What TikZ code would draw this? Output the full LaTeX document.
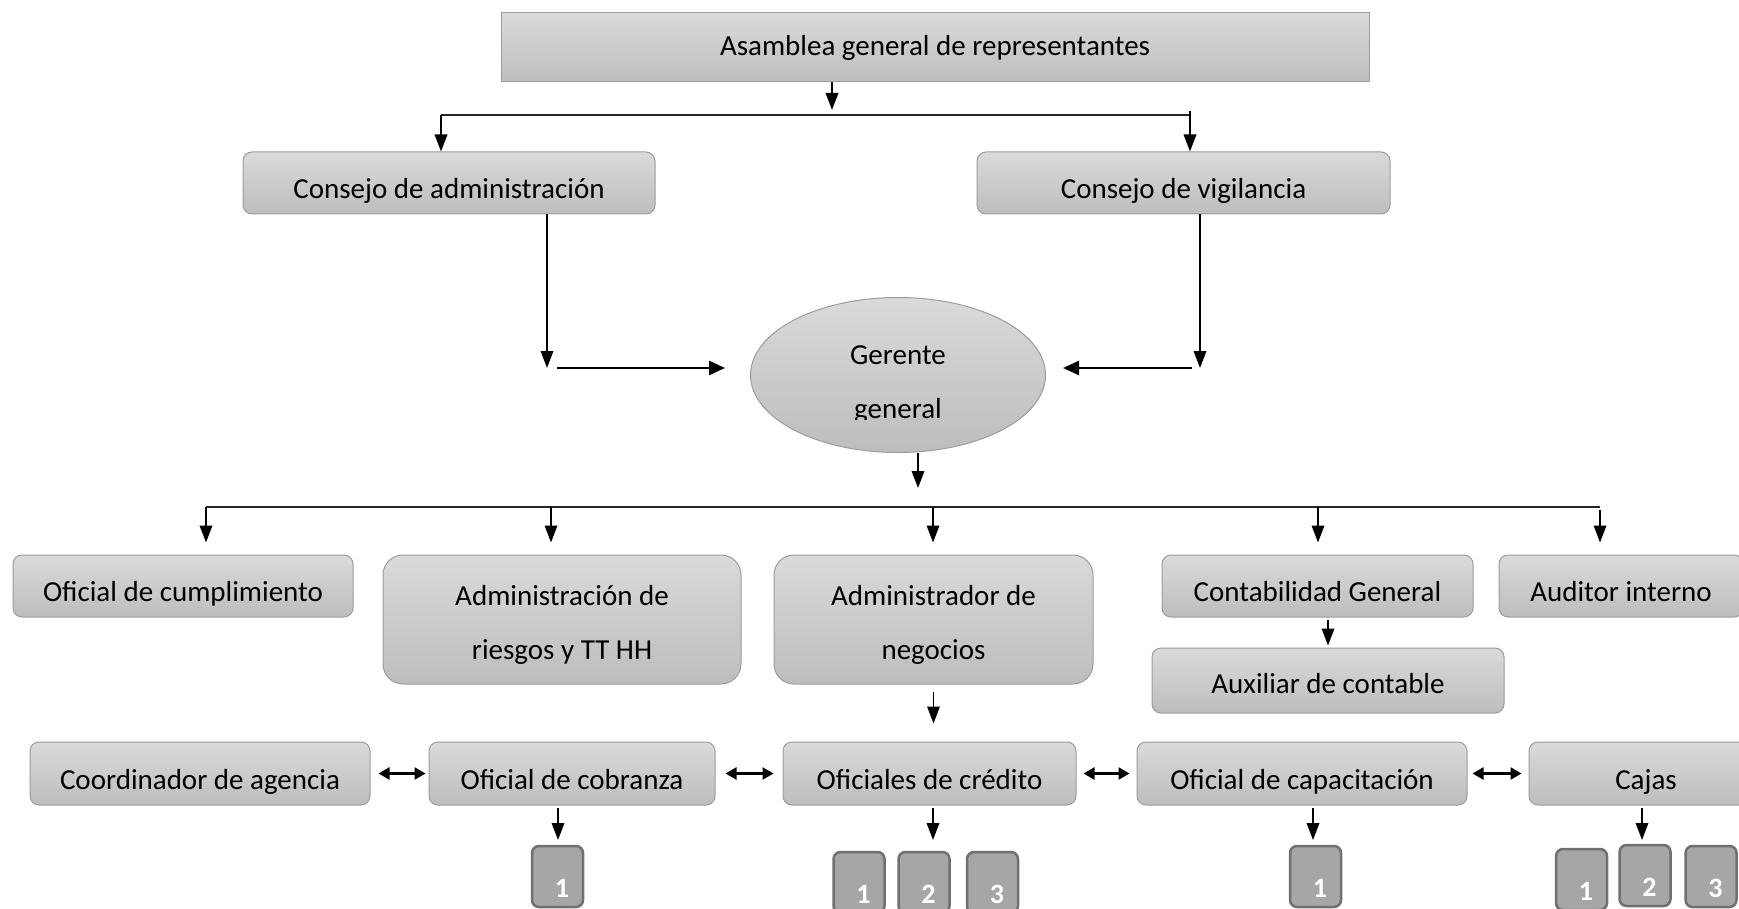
\documentclass[tikz,border=0pt]{standalone}
\usepackage{fontspec}
\setmainfont{Carlito}
\usetikzlibrary{arrows.meta,shapes.geometric}
\definecolor{gtop}{HTML}{DADADA}
\definecolor{gbot}{HTML}{BDBDBD}
\definecolor{bline}{HTML}{9C9C9C}
\definecolor{nfill}{HTML}{A6A6A6}
\definecolor{nline}{HTML}{707070}
\begin{document}
\begin{tikzpicture}[x=1pt,y=-1pt,
 box/.style={draw=bline, line width=1pt, top color=gtop, bottom color=gbot, rounded corners=9pt, inner sep=0pt, align=center, font=\fontsize{29}{54}\selectfont},
 oneline/.style={text height=37.5pt, text depth=6pt},
 twoline/.style={rounded corners=20pt, minimum height=129pt, text height=86.5pt, text depth=6pt},
 numbox/.style={draw=nline, line width=2.5pt, fill=nfill, rounded corners=7pt, minimum width=51pt, inner sep=0pt, text height=51pt, text depth=10pt, text=white, font=\fontsize{28}{30}\selectfont\bfseries},
 arr/.style={line width=1.8pt, -{Triangle[width=12.5pt,length=17pt]}},
 harr/.style={line width=2.6pt, -{Triangle[width=14pt,length=16pt]}},
 darr/.style={line width=2.4pt, {Triangle[width=12pt,length=11pt]}-{Triangle[width=12pt,length=11pt]}},
 bus/.style={line width=1.5pt, draw=black!85},
]
\useasboundingbox (0,0) rectangle (1739,909);
% top level
\node[box, rounded corners=0pt, minimum width=868pt, minimum height=69pt] (asm) at (935,47.5) {Asamblea general de representantes};
\node[box, oneline, minimum width=412pt, minimum height=62pt] (ca) at (449,183) {Consejo de administración};
\node[box, oneline, minimum width=413pt, minimum height=62pt] (cv) at (1183.5,183) {Consejo de vigilancia};
\node[ellipse, draw=bline, line width=1pt, top color=gtop, bottom color=gbot, minimum width=295pt, minimum height=155pt, inner sep=0pt] (gg) at (898,375) {};
\begin{scope}
\clip (700,300) rectangle (1100,419);
\node[align=center, font=\fontsize{29}{54}\selectfont, inner sep=0pt] (ggt) at (898,385) {Gerente\\general};
\end{scope}
% connectors top
\coordinate (t1) at (832,110);
\draw[arr] (asm.south -| t1) -- (t1);
\coordinate (bl) at (441,115);
\coordinate (br) at (1190,115);
\coordinate (brt) at (1190,111);
\draw[bus] (bl) -- (br);
\draw[arr] (bl) -- (ca.north -| bl);
\draw[arr] (brt) -- (cv.north -| brt);
\coordinate (lc) at (547,368);
\coordinate (rc) at (1200,368);
\draw[arr] (ca.south -| lc) -- (lc);
\draw[arr] (cv.south -| rc) -- (rc);
\draw[harr, shorten <=10pt, shorten >=25pt] (lc) -- (gg.west |- lc);
\draw[harr, shorten <=8pt, shorten >=17pt] (rc) -- (gg.east |- rc);
\coordinate (g1) at (918,488);
\draw[arr] (gg.south -| g1) -- (g1);
% second bus
\coordinate (d1) at (206,507);
\coordinate (d2) at (551,507);
\coordinate (d3) at (933,507);
\coordinate (d4) at (1318,507);
\coordinate (d5) at (1600,507);
\draw[bus] (d1) -- (d5);
% row 3
\node[box, oneline, minimum width=340pt, minimum height=62pt] (ocum) at (183,586) {Oficial de cumplimiento};
\node[box, twoline, minimum width=358pt] (adr) at (562,619.5) {Administración de\\riesgos y TT HH};
\node[box, twoline, minimum width=319pt] (adn) at (933.5,619.5) {Administrador de\\negocios};
\node[box, oneline, minimum width=311pt, minimum height=62pt] (cg) at (1317.5,586) {Contabilidad General};
\node[box, oneline, minimum width=244pt, minimum height=62pt] (ai) at (1621,586) {Auditor interno};
\node[box, text height=32.5pt, text depth=6pt, minimum width=352pt, minimum height=65pt] (aux) at (1328,680.5) {Auxiliar de contable};
\draw[arr, shorten >=12pt] (d1) -- (ocum.north -| d1);
\draw[arr, shorten >=12pt] (d2) -- (adr.north -| d2);
\draw[arr, shorten >=12pt] (d3) -- (adn.north -| d3);
\draw[arr, shorten >=12pt] (d4) -- (cg.north -| d4);
\draw[arr, shorten >=12pt] ([yshift=-3pt]d5) -- (ai.north -| d5);
\draw[arr, shorten <=2pt, shorten >=2pt] (cg.south -| aux.north) -- (aux.north);
% row 4
\node[box, oneline, minimum width=340pt, minimum height=63pt] (coord) at (200,773.5) {Coordinador de agencia};
\node[box, oneline, minimum width=286pt, minimum height=63pt] (cob) at (572,773.5) {Oficial de cobranza};
\node[box, oneline, minimum width=293pt, minimum height=63pt] (cred) at (929.5,773.5) {Oficiales de crédito};
\node[box, oneline, minimum width=330pt, minimum height=63pt] (cap) at (1302,773.5) {Oficial de capacitación};
\node[box, oneline, minimum width=234pt, minimum height=63pt] (cajas) at (1646,773.5) {Cajas};
\draw[arr, shorten <=7pt, shorten >=18pt] (adn.south) -- (cred.north -| adn.south);
\draw[darr, shorten <=8pt, shorten >=3pt] (coord.east) -- (cob.west);
\draw[darr, shorten <=10pt, shorten >=9pt] (cob.east) -- (cred.west);
\draw[darr, shorten <=7pt, shorten >=7pt] (cred.east) -- (cap.west);
\draw[darr, shorten <=5pt, shorten >=7pt] (cap.east) -- (cajas.west);
% number boxes
\node[numbox] (cb1) at (557.5,876.5) {\hspace*{9pt}1};
\node[numbox] (cr1) at (859,882.5) {\hspace*{9pt}1};
\node[numbox] (cr2) at (924,882.5) {\hspace*{9pt}2};
\node[numbox] (cr3) at (992.5,882.5) {\hspace*{9pt}3};
\node[numbox] (cp1) at (1315.5,876.5) {\hspace*{9pt}1};
\node[numbox] (cj1) at (1581.5,879.5) {\hspace*{9pt}1};
\node[numbox] (cj2) at (1645,875.5) {\hspace*{9pt}2};
\node[numbox] (cj3) at (1711,876.5) {\hspace*{9pt}3};
\coordinate (e1) at (558,840);
\coordinate (e2) at (933,840);
\coordinate (e3) at (1313,840);
\coordinate (e4) at (1642,840);
\draw[arr, shorten <=2pt] (cob.south -| e1) -- (e1);
\draw[arr, shorten <=2pt] (cred.south -| e2) -- (e2);
\draw[arr, shorten <=2pt] (cap.south -| e3) -- (e3);
\draw[arr, shorten <=2pt] (cajas.south -| e4) -- (e4);
\end{tikzpicture}
\end{document}
